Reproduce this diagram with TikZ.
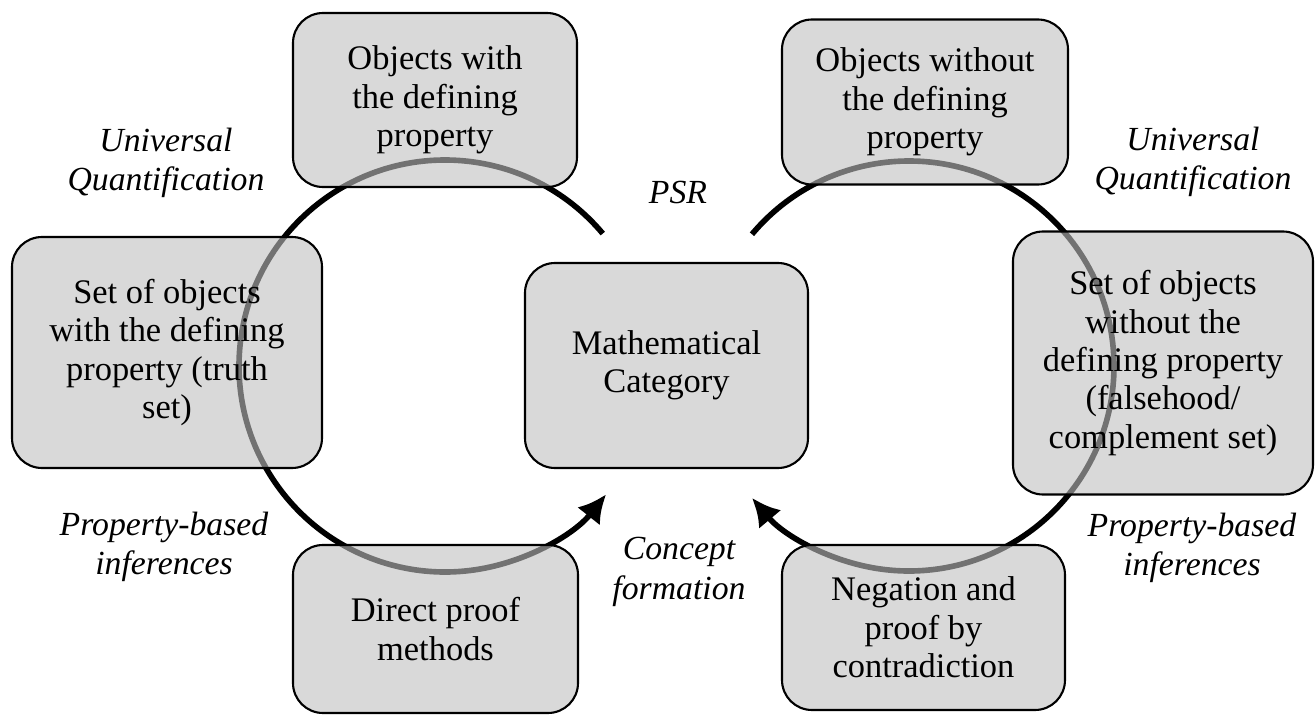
\documentclass[tikz,border=0pt]{standalone}
\usepackage{fontspec}
\setmainfont{Liberation Serif}
\usepackage{tikz}
\usetikzlibrary{arrows.meta,shapes}
\tikzstyle{box}=[rectangle,rounded corners=0.3cm,draw,line width=0.6pt,fill=black!25,fill opacity=0.6,text opacity=1,align=center,inner sep=0pt,font=\fontsize{9.8}{10.9}\selectfont]
\tikzstyle{tag}=[align=center,inner sep=0pt,font=\fontsize{9.6}{11.2}\selectfont\itshape]
\tikzstyle{cycle}=[draw,line width=1.6pt,-{Latex[length=2.8mm,width=2.9mm]}]

\begin{document}
\begin{tikzpicture}

    \useasboundingbox (0,0) rectangle (13.15,7.15);

    \coordinate (lc) at (4.45,3.49);
    \coordinate (rc) at (9.09,3.49);

    % the two cycles, drawn first so the boxes lie over them
    \draw[cycle] ([shift={(40:2.06)}]lc) arc[start angle=40, end angle=321.5, radius=2.06];
    \draw[cycle] ([shift={(140:2.05)}]rc) arc[start angle=140, end angle=-140, radius=2.05];

    \foreach \x/\y/\w/\h/\name/\txt in {
        4.35/6.15/2.84/1.74/objwith/{Objects with\\the defining\\property},
        9.25/6.13/2.86/1.65/objwithout/{Objects without\\the defining\\property},
        1.67/3.625/3.10/2.31/setwith/{Set of objects\\with the defining\\property (truth\\set)},
        11.63/3.52/3.00/2.63/setwithout/{Set of objects\\without the\\defining property\\(falsehood/\\complement set)},
        6.665/3.495/2.83/2.05/mathcat/{Mathematical\\Category},
        4.355/0.86/2.85/1.68/direct/{Direct proof\\methods},
        9.235/0.875/2.83/1.65/negation/{Negation and\\proof by\\contradiction}}
        \node[box, minimum width=\w cm, minimum height=\h cm] (\name) at (\x,\y) {\txt};

    \foreach \x/\y/\name/\txt in {
        1.66/5.52/uqleft/{Universal\\Quantification},
        11.93/5.53/uqright/{Universal\\Quantification},
        6.78/5.23/psr/{PSR},
        6.79/1.43/concept/{Concept\\formation},
        1.64/1.68/pbleft/{Property-based\\inferences},
        11.92/1.67/pbright/{Property-based\\inferences}}
        \node[tag] (\name) at (\x,\y) {\txt};

\end{tikzpicture}
\end{document}
